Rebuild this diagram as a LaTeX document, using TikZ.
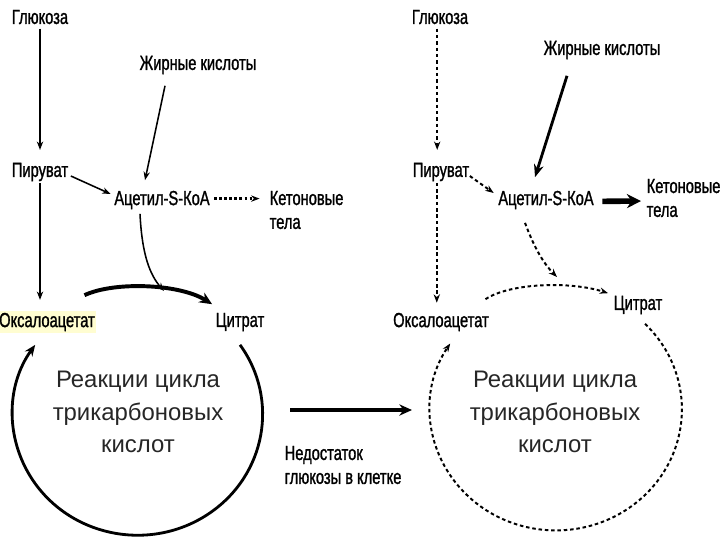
\documentclass[tikz,border=0pt]{standalone}
\usepackage{fontspec}
\setmainfont{Liberation Sans}
\newfontfamily\lblfont[FakeStretch=0.72, FakeBold=1.2]{Liberation Sans}
\usetikzlibrary{arrows.meta, positioning, calc}

\begin{document}
\begin{tikzpicture}[
  x=0.025cm, y=-0.025cm,
  lbl/.style={font=\lblfont\fontsize{14.5}{17}\selectfont, inner sep=1pt, align=left},
  big/.style={font=\fontsize{17}{23}\selectfont, text=black!85, align=center},
  arr/.style={-{Stealth[length=6pt, width=4.5pt]}, line width=1.1pt},
  darr/.style={arr, line width=1.4pt, dash pattern=on 2.5pt off 2pt},
  dotarr/.style={arr, line width=1.6pt, dash pattern=on 2pt off 1.6pt},
  heavy/.style={-{Stealth[length=9pt, width=8pt]}, line width=2.8pt},
  ring/.style={-{Stealth[length=8pt, width=6.5pt]}, line width=2pt}
]
\useasboundingbox (0,0) rectangle (720,540);
% left: normal state
\node[lbl] (gluc) at (40,17) {Глюкоза};
\node[lbl] (pyr)  at (40,172) {Пируват};
\node[lbl] (fa)   at (198,65) {Жирные кислоты};
\node[lbl] (acoa) at (162,200) {Ацетил-S-КоА};
\node[lbl, anchor=west] (keto) at (268,210) {Кетоновые\\тела};
\node[lbl, fill=yellow!18] (oxa) at (47,322) {Оксалоацетат};
\node[lbl] (cit)  at (240,322) {Цитрат};
\node[big] (tca)  at (138,412) {Реакции цикла\\трикарбоновых\\кислот};
\coordinate (joinL) at (164,291);
\draw[arr, shorten <=2pt, shorten >=8pt] (gluc) -- (pyr);
\draw[arr, shorten >=8pt] (pyr.south) -- (pyr.south |- oxa.north);
\draw[arr] ([shift={(1,4)}]pyr.east) -- ([shift={(-2,-6)}]acoa.west);
\draw[arr] ($(fa.south)+(-33,10)$) -- ($(acoa.north)+(-17,-9)$);
\draw[dotarr, shorten <=2pt, shorten >=6pt] ([yshift=1pt]acoa.east) -- ([yshift=1pt]acoa.east -| keto.west);
\draw[arr] ($(acoa.south)+(-22,3)$) .. controls (142,255) and (150,275) .. (joinL);
\draw[heavy] ($(oxa.north east)+(-12,-16)$) .. controls (115,281) and (180,284) .. ($(cit.north west)+(-2,-7)$);
\draw[ring] ([shift={(0,12)}]cit.south) arc[start angle=-35, end angle=215, x radius=125, y radius=121];
% middle
\coordinate (gapA) at (290,410);
\coordinate (gapB) at (412,410);
\draw[heavy] (gapA) -- (gapB);
\node[lbl, anchor=west] (lack) at (283,465) {Недостаток\\глюкозы в клетке};
% right: glucose shortage
\node[lbl] (gluc2) at (440,17) {Глюкоза};
\node[lbl] (pyr2)  at (441,172) {Пируват};
\node[lbl] (fa2)   at (602,50) {Жирные кислоты};
\node[lbl] (acoa2) at (546,200) {Ацетил-S-КоА};
\node[lbl, anchor=west] (keto2) at (645,198) {Кетоновые\\тела};
\node[lbl] (oxa2)  at (441,322) {Оксалоацетат};
\node[lbl] (cit2)  at (638,305) {Цитрат};
\node[big] (tca2)  at (555,412) {Реакции цикла\\трикарбоновых\\кислот};
\coordinate (joinR) at (557,277);
\draw[darr, shorten <=2pt, shorten >=8pt] ([xshift=-2pt]gluc2.south) -- ([xshift=-2pt]gluc2.south |- pyr2.north);
\draw[darr, shorten >=6pt] ([xshift=-3pt]pyr2.south) -- ([xshift=-3pt]pyr2.south |- oxa2.north);
\draw[darr] ([shift={(-1,4)}]pyr2.east) -- ([shift={(-3,-7)}]acoa2.west);
\draw[-{Stealth[length=9pt, width=7pt]}, line width=2pt] ($(fa2.south)+(-35,15)$) -- ($(acoa2.north)+(-11,-12)$);
\draw[-{Stealth[length=10pt, width=10pt]}, line width=4pt, shorten <=5pt] ([yshift=-1pt]acoa2.east) -- ([shift={(-4,1)}]acoa2.east -| keto2.west);
\draw[darr] ($(acoa2.south)+(-21,12)$) .. controls (535,250) and (545,265) .. (joinR);
\draw[darr] ($(oxa2.north east)+(-5,-12)$) .. controls (510,283) and (570,281) .. ($(cit2.north west)+(-4,-1)$);
\draw[darr] ([shift={(7,8)}]cit2.south) arc[start angle=-45, end angle=213, x radius=126, y radius=121];
\end{tikzpicture}
\end{document}
